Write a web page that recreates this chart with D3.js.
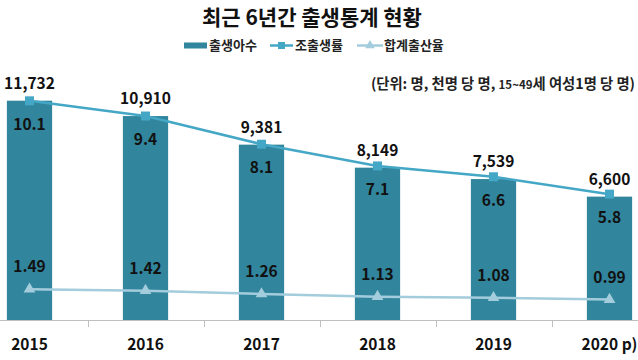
<!DOCTYPE html>
<html><head><meta charset="utf-8">
<script src="https://cdn.jsdelivr.net/npm/d3@7/dist/d3.min.js"></script>
<style>
html,body{margin:0;padding:0;background:#fff;}
svg{display:block;font-family:"Noto Sans CJK KR","Noto Sans",sans-serif;}
</style></head>
<body>
<svg id="c" width="638" height="360"></svg>
<script>
const years = ["2015","2016","2017","2018","2019","2020 p)"];
const births = [11732,10910,9381,8149,7539,6600];
const cbr = [10.1,9.4,8.1,7.1,6.6,5.8];
const tfr = [1.49,1.42,1.26,1.13,1.08,0.99];
const seriesNames = ["출생아수","조출생률","합계출산율"];
const titleText = "최근 6년간 출생통계 현황";

const colBar = "#31859C", colRate = "#45A7C6", colTfr = "#A3CCDC";
const svg = d3.select("#c");
const x = d3.scaleBand().domain(years).range([-28.5, 667.5]).paddingInner(0.61).paddingOuter(0.305);
const yBar = d3.scaleLinear().domain([0,14000]).range([320,58.3]);
const yRate = d3.scaleLinear().domain([0,12]).range([320,59.6]);
const yTfr = d3.scaleLinear().domain([0,12.6]).range([320,59.6]);
const cx = d => x(d) + x.bandwidth()/2;
const fmt = d3.format(",");

// title
svg.append("text").attr("x",312).attr("y",25).attr("text-anchor","middle")
  .attr("font-size",21).attr("font-weight","bold").attr("fill","#111").text(titleText);

// legend
const lg = svg.append("g").attr("font-size",13).attr("font-weight","bold").attr("fill","#222");
lg.append("rect").attr("x",184).attr("y",42.5).attr("width",23).attr("height",6).attr("fill",colBar);
lg.append("text").attr("x",209).attr("y",50).text(seriesNames[0]);
lg.append("line").attr("x1",270).attr("x2",293).attr("y1",45.5).attr("y2",45.5).attr("stroke",colRate).attr("stroke-width",2.5);
lg.append("rect").attr("x",278).attr("y",42).attr("width",7).attr("height",7).attr("fill",colRate);
lg.append("text").attr("x",295).attr("y",50).text(seriesNames[1]);
lg.append("line").attr("x1",357).attr("x2",383).attr("y1",45.5).attr("y2",45.5).attr("stroke",colTfr).attr("stroke-width",2.5);
lg.append("path").attr("d",d3.symbol(d3.symbolTriangle,40)()).attr("transform","translate(370,45.5)").attr("fill",colTfr);
lg.append("text").attr("x",384).attr("y",50).text(seriesNames[2]);

// unit text
const ut = svg.append("text").attr("x",635).attr("y",89).attr("text-anchor","end")
  .attr("font-size",14.3).attr("font-weight","bold").attr("fill","#222");
ut.append("tspan").text("(단위: 명, 천명 당 명, ");
ut.append("tspan").attr("font-size",11.5).text("15~49");
ut.append("tspan").text("세 여성1명 당 명)");

// bars
svg.append("g").selectAll("rect").data(years).join("rect")
  .attr("x",d=>x(d)).attr("width",x.bandwidth())
  .attr("y",(d,i)=>yBar(births[i])).attr("height",(d,i)=>yBar(0)-yBar(births[i]))
  .attr("fill",colBar);

// axis
const axis = svg.append("g").attr("transform","translate(0,320)")
  .call(d3.axisBottom(x).tickSize(0).tickSizeOuter(0));
axis.select(".domain").remove();
axis.append("line").attr("x1",0).attr("x2",638).attr("y1",0.5).attr("y2",0.5).attr("stroke","#BFBFBF").attr("stroke-width",1);
axis.selectAll(".sep").data(years.slice(1)).join("line").attr("class","sep")
  .attr("x1",d=>Math.round(x(d)-x.step()*x.paddingInner()/2)+0.5)
  .attr("x2",d=>Math.round(x(d)-x.step()*x.paddingInner()/2)+0.5)
  .attr("y1",0).attr("y2",7).attr("stroke","#BFBFBF");
axis.selectAll(".tick text").attr("dy",null).attr("y",30)
  .attr("font-size",15.5).attr("font-weight","bold").attr("fill","#111")
  .attr("font-family",'"Noto Sans CJK KR","Noto Sans",sans-serif');

// rate line
svg.append("path").datum(cbr).attr("fill","none").attr("stroke",colRate).attr("stroke-width",2.5)
  .attr("d",d3.line().x((d,i)=>cx(years[i])).y(d=>yRate(d)));
svg.append("g").selectAll("rect").data(cbr).join("rect")
  .attr("x",(d,i)=>cx(years[i])-4.5).attr("y",d=>yRate(d)-4.5).attr("width",9).attr("height",9).attr("fill",colRate);

// tfr line
svg.append("path").datum(tfr).attr("fill","none").attr("stroke",colTfr).attr("stroke-width",2.5)
  .attr("d",d3.line().x((d,i)=>cx(years[i])).y(d=>yTfr(d)));
svg.append("g").selectAll("path").data(tfr).join("path")
  .attr("d",d3.symbol(d3.symbolTriangle,60)())
  .attr("transform",(d,i)=>`translate(${cx(years[i])},${yTfr(d)})`).attr("fill",colTfr);

// labels
const lab = svg.append("g").attr("font-size",15.5).attr("font-weight","bold").attr("fill","#111").attr("text-anchor","middle");
lab.selectAll(".lb").data(births).join("text").attr("class","lb")
  .attr("x",(d,i)=>cx(years[i])).attr("y",d=>yBar(d)-12).text(d=>fmt(d));
lab.selectAll(".lr").data(cbr).join("text").attr("class","lr")
  .attr("x",(d,i)=>cx(years[i])).attr("y",d=>yRate(d)+29).text(d=>d.toFixed(1));
lab.selectAll(".lt").data(tfr).join("text").attr("class","lt")
  .attr("x",(d,i)=>cx(years[i])).attr("y",d=>yTfr(d)-17).text(d=>d.toFixed(2));
</script>
</body></html>
